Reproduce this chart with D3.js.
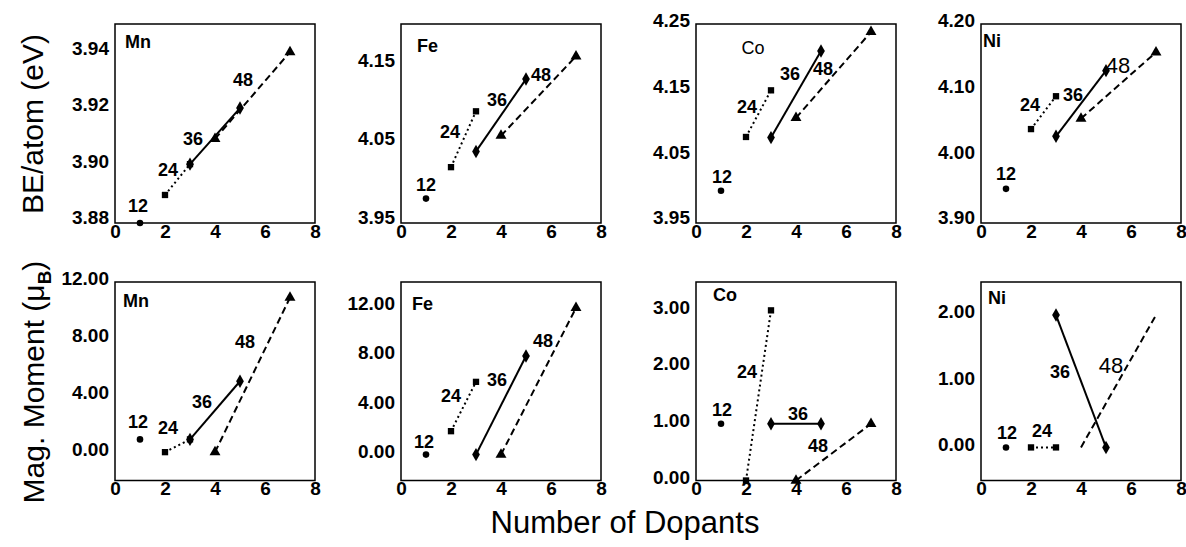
<!DOCTYPE html>
<html>
<head>
<meta charset="utf-8">
<script src="https://cdnjs.cloudflare.com/ajax/libs/d3/7.8.5/d3.min.js"></script>
<style>
  body { margin: 0; background: #fff; }
  svg { font-family: "Liberation Sans", Arial, sans-serif; }
</style>
</head>
<body>
<svg width="1186" height="547"></svg>
<script>
// dopant counts for each cluster size series
var sizes = ["12", "24", "36", "48"];
var dopants = [[1], [2, 3], [3, 5], [4, 7]];
var elements = ["Mn", "Fe", "Co", "Ni"];

// binding energy per atom (eV), one array per series
var beMn = [[3.879], [3.889, 3.900], [3.900, 3.920], [3.909, 3.940]];
var beFe = [[3.978], [4.018, 4.089], [4.038, 4.130], [4.058, 4.159]];
var beCo = [[3.996], [4.078, 4.149], [4.077, 4.209], [4.107, 4.238]];
var beNi = [[3.949], [4.040, 4.090], [4.029, 4.129], [4.056, 4.157]];

// magnetic moment (muB)
var mmMn = [[0.9], [0.0, 0.9], [0.9, 5.0], [0.0, 10.9]];
var mmFe = [[0.0], [1.9, 5.9], [0.0, 8.0], [0.0, 11.9]];
var mmCo = [[1.0], [0.0, 3.0], [1.0, 1.0], [0.0, 1.0]];
var mmNi = [[0.0], [0.0, 0.0], [2.0, 0.0], [0.0, 2.0]];

var beDomains = [[3.879, 3.95], [3.947, 4.20], [3.947, 4.25], [3.897, 4.20]];
var mmDomains = [[-2, 12], [-2.1, 14], [0, 3.5], [-0.5, 2.5]];
var beTicks = [[3.88, 3.90, 3.92, 3.94], [3.95, 4.05, 4.15], [3.95, 4.05, 4.15, 4.25], [3.90, 4.00, 4.10, 4.20]];
var mmTicks = [[0, 4, 8, 12], [0, 4, 8, 12], [0, 1, 2, 3], [0, 1, 2]];
var xTicks = [0, 2, 4, 6, 8];

// series label positions in data units (x, y) for 12, 24, 36, 48
var labBE = [
  [[0.92, 3.885], [2.12, 3.898], [3.12, 3.909], [5.12, 3.930]],
  [[1.0, 3.996], [1.96, 4.063], [3.84, 4.104], [5.6, 4.135]],
  [[1.04, 4.017], [2.04, 4.124], [3.76, 4.174], [5.08, 4.182]],
  [[1.0, 3.972], [1.96, 4.077], [3.68, 4.093], [5.48, 4.137]]
];
var labMM = [
  [[0.92, 2.14], [2.12, 1.71], [3.48, 3.54], [5.2, 7.77]],
  [[0.92, 1.03], [2.0, 4.75], [3.84, 6.04], [5.68, 9.27]],
  [[1.04, 1.24], [2.04, 1.91], [4.08, 1.17], [4.88, 0.61]],
  [[1.04, 0.22], [2.44, 0.25], [3.16, 1.15], [5.2, 1.24]]
];
// element name positions (x, y) in data units
var nameBE = [[0.4, 3.9437], [0.64, 4.172], [1.82, 4.214], [0.08, 4.174]];
var nameMM = [[0.32, 10.66], [0.44, 12.26], [0.68, 3.27], [0.28, 2.27]];

var svg = d3.select("svg");
var lefts = [115, 401, 696, 981], W = 200;
var rows = [{top: 24, h: 199}, {top: 282, h: 198.5}];

var symbols = [d3.symbolCircle, d3.symbolSquare, d3.symbolDiamond, d3.symbolTriangle];
var symSize = [34, 40, 52, 52];
var dash = [null, "2,3", null, "7,4"];

function panel(col, row, values, domain, ticks, labels, name, opts) {
  var g = svg.append("g");
  var x = d3.scaleLinear().domain([0, 8]).range([lefts[col], lefts[col] + W]);
  var y = d3.scaleLinear().domain(domain).range([rows[row].top + rows[row].h, rows[row].top]);

  g.append("rect")
      .attr("x", x(0)).attr("y", y(domain[1]))
      .attr("width", x(8) - x(0)).attr("height", y(domain[0]) - y(domain[1]))
      .attr("fill", "none").attr("stroke", "#000").attr("stroke-width", 1.5);

  var ya = g.append("g").attr("transform", "translate(" + x(0) + ",0)")
      .call(d3.axisLeft(y).tickValues(ticks).tickSize(0).tickPadding(6).tickFormat(d3.format(".2f")));
  var xa = g.append("g").attr("transform", "translate(0," + y(domain[0]) + ")")
      .call(d3.axisBottom(x).tickValues(xTicks).tickSize(0).tickPadding(1).tickFormat(d3.format("d")));
  [ya, xa].forEach(function(a) {
    a.select(".domain").remove();
    a.selectAll("text").attr("font-size", 19).attr("font-weight", "bold")
      .attr("font-family", "'Liberation Sans', Arial, sans-serif").attr("fill", "#000");
  });
  ya.selectAll("text").attr("dy", "0.15em");

  var line = d3.line().x(function(d) { return x(d[0]); }).y(function(d) { return y(d[1]); });

  values.forEach(function(vals, i) {
    var pts = vals.map(function(v, j) { return [dopants[i][j], v]; });
    if (pts.length > 1) {
      g.append("path").attr("d", line(pts)).attr("fill", "none")
        .attr("stroke", "#000").attr("stroke-width", 2)
        .attr("stroke-dasharray", dash[i]);
    }
    if (opts.noMarkers && opts.noMarkers.indexOf(i) >= 0) return;
    g.selectAll(null).data(pts).enter().append("path")
      .attr("d", d3.symbol().type(symbols[i]).size(symSize[i]))
      .attr("transform", function(d) { return "translate(" + x(d[0]) + "," + y(d[1]) + ")"; })
      .attr("fill", "#000");
  });

  labels.forEach(function(p, i) {
    var reg = opts.regular && opts.regular.indexOf(i) >= 0;
    g.append("text").attr("x", x(p[0])).attr("y", y(p[1])).attr("dy", "0.35em")
      .attr("text-anchor", "middle")
      .attr("font-size", reg ? 22 : 18).attr("font-weight", reg ? "normal" : "bold")
      .text(sizes[i]);
  });

  g.append("text").attr("x", x(name[0])).attr("y", y(name[1])).attr("dy", "0.35em")
    .attr("font-size", 18).attr("font-weight", opts.nameRegular ? "normal" : "bold")
    .text(elements[col]);
}

var beAll = [beMn, beFe, beCo, beNi];
var mmAll = [mmMn, mmFe, mmCo, mmNi];

for (var c = 0; c < 4; c++) {
  panel(c, 0, beAll[c], beDomains[c], beTicks[c], labBE[c], nameBE[c],
    {regular: c === 3 ? [3] : [], nameRegular: c === 2});
  panel(c, 1, mmAll[c], mmDomains[c], mmTicks[c], labMM[c], nameMM[c],
    {regular: c === 3 ? [3] : [], noMarkers: c === 3 ? [3] : []});
}

// axis titles
svg.append("text").attr("transform", "translate(32,124) rotate(-90)")
  .attr("text-anchor", "middle").attr("dy", "0.35em").attr("font-size", 30)
  .text("BE/atom (eV)");

var mt = svg.append("text").attr("transform", "translate(33,382) rotate(-90)")
  .attr("text-anchor", "middle").attr("dy", "0.35em").attr("font-size", 30);
mt.append("tspan").text("Mag. Moment (\u03bc");
mt.append("tspan").attr("dy", 7).attr("font-size", 19).attr("font-weight", "bold").text("B");
mt.append("tspan").attr("dy", -7).text(")");

svg.append("text").attr("x", 625).attr("y", 522).attr("dy", "0.35em")
  .attr("text-anchor", "middle").attr("font-size", 31)
  .text("Number of Dopants");
</script>
</body>
</html>
